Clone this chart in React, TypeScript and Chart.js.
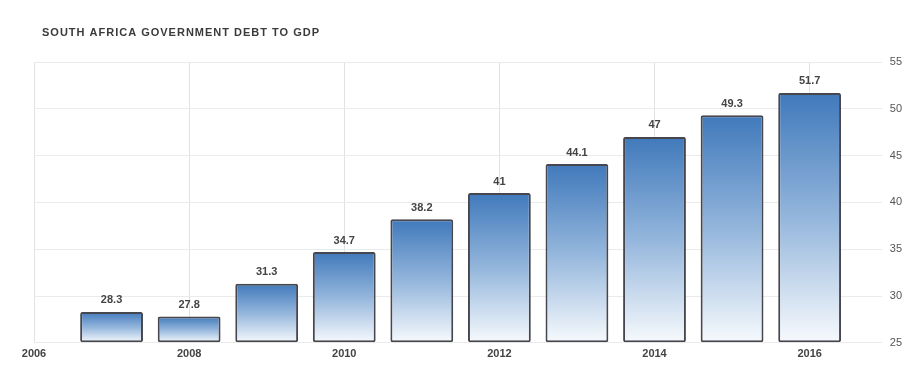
import { useEffect, useRef } from "react";
import { Chart, registerables } from "chart.js";

Chart.register(...registerables);

const TITLE = "SOUTH AFRICA GOVERNMENT DEBT TO GDP";
const years = [2007, 2008, 2009, 2010, 2011, 2012, 2013, 2014, 2015, 2016];
const debtToGdp = [28.3, 27.8, 31.3, 34.7, 38.2, 41, 44.1, 47, 49.3, 51.7];
const xTickYears = [2006, 2008, 2010, 2012, 2014, 2016];
const yTickValues = [25, 30, 35, 40, 45, 50, 55];

const FONT = "'Liberation Sans', Arial, sans-serif";

export default function App() {
  const canvasRef = useRef<HTMLCanvasElement | null>(null);

  useEffect(() => {
    document.body.style.margin = "0";
    const canvas = canvasRef.current;
    if (!canvas) return;

    const yMin = Math.min(...yTickValues);
    const yMax = Math.max(...yTickValues);
    const xMin = Math.min(...xTickYears);
    const xMax = Math.max(...years) + 0.93;

    const titlePlugin = {
      id: "customTitle",
      afterDraw(chart: any) {
        const ctx = chart.ctx;
        ctx.save();
        ctx.font = `bold 11px ${FONT}`;
        (ctx as any).letterSpacing = "1px";
        ctx.fillStyle = "#3a3a3a";
        ctx.textAlign = "left";
        ctx.textBaseline = "middle";
        ctx.fillText(TITLE, 42, 33);
        ctx.restore();
      },
    };

    const valueLabels = {
      id: "valueLabels",
      afterDatasetsDraw(chart: any) {
        const ctx = chart.ctx;
        const meta = chart.getDatasetMeta(0);
        ctx.save();
        ctx.font = `bold 11px ${FONT}`;
        ctx.fillStyle = "#444";
        ctx.textAlign = "center";
        ctx.textBaseline = "bottom";
        meta.data.forEach((el: any, i: number) => {
          ctx.fillText(String(debtToGdp[i]), el.x, el.y - 6);
        });
        ctx.restore();
      },
    };

    const chart = new Chart(canvas, {
      type: "bar",
      data: {
        datasets: [
          {
            label: "Debt to GDP",
            data: years.map((yr, i) => ({ x: yr, y: debtToGdp[i] })),
            backgroundColor: (c: any) => {
              const ch = c.chart;
              const ys = ch.scales?.y;
              if (!ys || !ch.chartArea || c.raw == null) return "#5b8fc8";
              const top = ys.getPixelForValue(c.raw.y);
              const bottom = ys.getPixelForValue(yMin);
              if (!isFinite(top) || !isFinite(bottom) || top === bottom) return "#5b8fc8";
              const g = ch.ctx.createLinearGradient(0, top, 0, bottom);
              g.addColorStop(0, "#4079bb");
              g.addColorStop(0.5, "#94b6dc");
              g.addColorStop(1, "#f7fafd");
              return g;
            },
            borderColor: "#46464e",
            borderWidth: 2,
            borderRadius: 2,
            borderSkipped: false,
            barPercentage: 0.9,
            categoryPercentage: 0.9,
            base: yMin,
          } as any,
        ],
      },
      options: {
        animation: false,
        responsive: false,
        maintainAspectRatio: false,
        layout: { padding: { top: 62, left: 34, right: 4, bottom: 3 } },
        plugins: {
          legend: { display: false },
          title: { display: false },
          tooltip: { enabled: false },
        },
        scales: {
          x: {
            type: "linear",
            offset: false,
            min: xMin,
            max: xMax,
            grid: { color: "#e2e2e2", lineWidth: 1, drawTicks: false, offset: false },
            border: { display: false },
            ticks: {
              stepSize: 2,
              includeBounds: false,
              padding: 5,
              color: "#444",
              font: { family: FONT, size: 11, weight: "bold" },
              callback: (v: any) => String(v),
            },
          },
          y: {
            position: "right",
            min: yMin,
            max: yMax,
            grid: { color: "#ebebeb", lineWidth: 1, drawTicks: false },
            border: { display: false },
            ticks: {
              stepSize: 5,
              padding: 8,
              color: "#555",
              font: { family: FONT, size: 11 },
            },
          },
        },
      },
      plugins: [titlePlugin, valueLabels],
    });

    return () => chart.destroy();
  }, []);

  return (
    <div style={{ width: 914, height: 369, position: "relative", background: "#fff" }}>
      <canvas ref={canvasRef} width={914} height={369} style={{ display: "block" }} />
    </div>
  );
}
